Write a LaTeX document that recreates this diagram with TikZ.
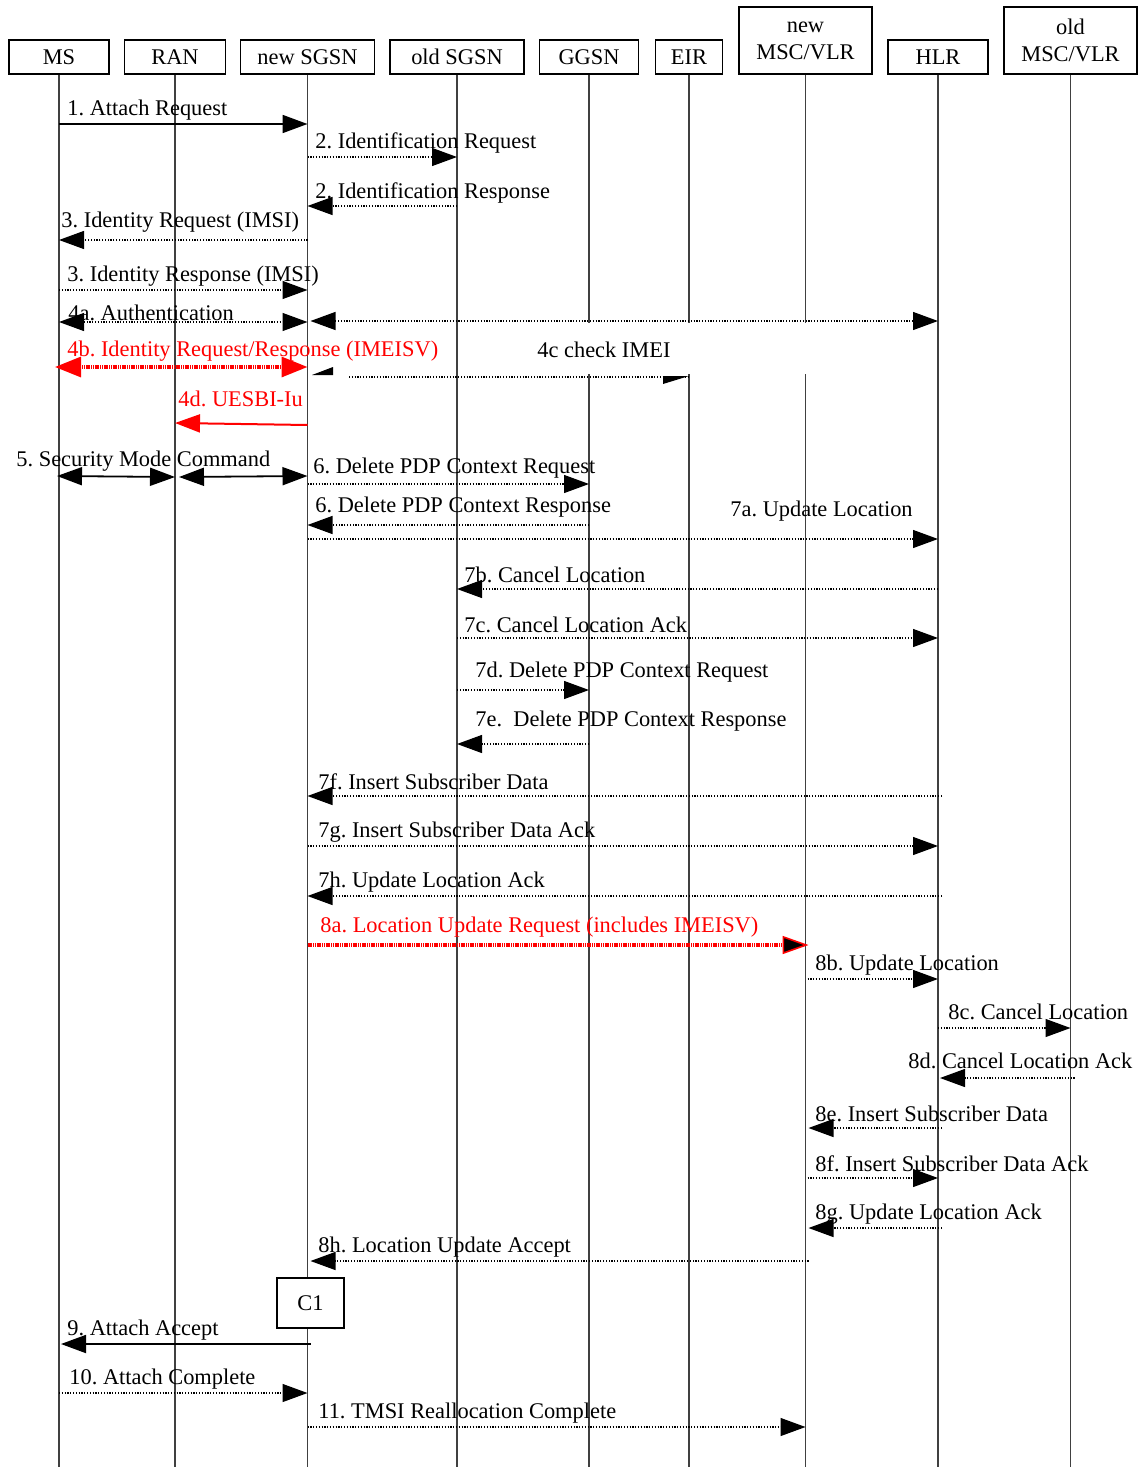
\documentclass[tikz,border=0pt]{standalone}
\usepackage{fontspec}
\setmainfont{Liberation Serif}
\usetikzlibrary{arrows.meta}
\begin{document}
\frenchspacing
\begin{tikzpicture}[x=0.5pt,y=-0.5pt,
  font=\fontsize{11.2}{13.5}\selectfont,
  hdr/.style={draw, line width=0.9pt, inner sep=0pt, align=center, fill=white, text depth=0pt},
  life/.style={line width=0.6pt, black!75},
  lbl/.style={anchor=west, inner sep=0pt, yshift=-1pt},
  rlbl/.style={lbl, text=red},
  dmsg/.style={line width=0.6pt, dash pattern=on 0.6pt off 0.8pt, -{Triangle[length=12.5pt,width=9pt]}},
  ddmsg/.style={line width=0.6pt, dash pattern=on 0.6pt off 0.8pt, {Triangle[length=12.5pt,width=9pt]}-{Triangle[length=12.5pt,width=9pt]}},
  smsg/.style={line width=0.9pt, -{Triangle[length=12.5pt,width=9pt]}},
  ssmsg/.style={line width=0.9pt, {Triangle[length=12.5pt,width=9pt]}-{Triangle[length=12.5pt,width=9pt]}},
  redd/.style={red, line width=1.6pt, dash pattern=on 0.6pt off 0.3pt},
]
\useasboundingbox (0,0) rectangle (1137,1467);
% headers
\node[hdr, minimum width=50pt, minimum height=17pt] (MS) at (59,57) {MS};
\node[hdr, minimum width=50.5pt, minimum height=17pt] (RAN) at (175,57) {RAN};
\node[hdr, minimum width=67pt, minimum height=17pt] (NSGSN) at (307.5,57) {new SGSN};
\node[hdr, minimum width=67pt, minimum height=17pt] (OSGSN) at (457,57) {old SGSN};
\node[hdr, minimum width=49.5pt, minimum height=17pt] (GGSN) at (589,57) {GGSN};
\node[hdr, minimum width=33.5pt, minimum height=17pt] (EIR) at (689,57) {EIR};
\node[hdr, minimum width=66.5pt, minimum height=33.5pt] (NMSC) at (805.5,40.5) {new\\MSC/VLR};
\node[hdr, minimum width=50pt, minimum height=17pt] (HLR) at (938,57) {HLR};
\node[hdr, minimum width=66.5pt, minimum height=33.5pt] (OMSC) at (1070.5,40.5) {old\\MSC/VLR};
% lifelines
\foreach \n in {MS,RAN,NSGSN,OSGSN,GGSN,EIR,NMSC,HLR,OMSC}
  \draw[life] (\n.south) -- (\n.south |- 0,1467);
% white gap for 4c
\fill[white] (470,323) rectangle (815,374);

% 1
\node[lbl] (l1) at (67,108) {1. Attach Request};
\draw[smsg] (MS |- 0,124) -- (NSGSN |- 0,124);
% 2
\node[lbl] (l2) at (315,141) {2. Identification Request};
\draw[dmsg] (NSGSN |- 0,157) -- (OSGSN |- 0,157);
\node[lbl] (l2b) at (315,191) {2. Identification Response};
\draw[dmsg] (OSGSN |- 0,206) -- (NSGSN |- 0,206);
% 3
\node[lbl] (l3) at (61,220) {3. Identity Request (IMSI)};
\draw[dmsg] (NSGSN |- 0,240) -- (MS |- 0,240);
\node[lbl] (l3b) at (67,274) {3. Identity Response (IMSI)};
\draw[dmsg] (MS |- 0,290) -- (NSGSN |- 0,290);
% 4a
\node[lbl] (l4a) at (68,311) {4a. Authentication};
\draw[ddmsg] (MS |- 0,322) -- (NSGSN |- 0,322);
\draw[ddmsg] ([xshift=1.5pt]NSGSN |- 0,321) -- (HLR |- 0,321);
% 4b
\node[rlbl] (l4b) at (67,349) {4b. Identity Request/Response (IMEISV)};
\draw[redd, {Triangle[length=13pt,width=10pt]}-{Triangle[length=13pt,width=10pt]}] ([xshift=-2pt]MS |- 0,367) -- (NSGSN |- 0,367);
% 4c
\node[lbl] (l4c) at (537,348) {4c check IMEI};
\coordinate (c4s) at (349,377);
\draw[line width=0.6pt, dash pattern=on 0.6pt off 0.8pt] (c4s) -- (EIR |- 0,377);
\fill (312,375) -- (333,367) -- (333,375) -- cycle;
\fill (663,376) -- (689,376) -- (663,384) -- cycle;
% 4d
\node[rlbl] (l4d) at (178,397) {4d. UESBI-Iu};
\draw[red, line width=1pt, -{Triangle[length=12.5pt,width=9pt]}] (NSGSN |- 0,425) -- (RAN |- 0,423);
% 5
\node[lbl] (l5) at (16,459) {5. Security Mode Command};
\draw[ssmsg] ([xshift=-1pt]MS |- 0,476) -- (RAN |- 0,477);
\draw[ssmsg] ([xshift=2pt]RAN |- 0,477) -- (NSGSN |- 0,476);
% 6
\node[lbl] (l6) at (313,466) {6. Delete PDP Context Request};
\draw[dmsg] (NSGSN |- 0,484) -- (GGSN |- 0,484);
\node[lbl] (l6b) at (315,505) {6. Delete PDP Context Response};
\draw[dmsg] (GGSN |- 0,525) -- (NSGSN |- 0,525);
% 7a
\node[lbl] (l7a) at (730,509) {7a. Update Location};
\draw[dmsg] (NSGSN |- 0,539) -- (HLR |- 0,539);
% 7b
\node[lbl] (l7b) at (464,573) {7b. Cancel Location};
\draw[dmsg] (HLR |- 0,589) -- (OSGSN |- 0,589);
% 7c
\node[lbl] (l7c) at (464,623) {7c. Cancel Location Ack};
\draw[dmsg] (OSGSN |- 0,638) -- (HLR |- 0,638);
% 7d
\node[lbl] (l7d) at (475,670) {7d. Delete PDP Context Request};
\draw[dmsg] (OSGSN |- 0,690) -- (GGSN |- 0,690);
% 7e
\node[lbl] (l7e) at (475,719) {7e.\ \ Delete PDP Context Response};
\draw[dmsg] (GGSN |- 0,744) -- (OSGSN |- 0,744);
% 7f
\node[lbl] (l7f) at (318,780) {7f. Insert Subscriber Data};
\draw[dmsg] ([xshift=2pt]HLR |- 0,796) -- (NSGSN |- 0,796);
% 7g
\node[lbl] (l7g) at (318,830) {7g. Insert Subscriber Data Ack};
\draw[dmsg] (NSGSN |- 0,846) -- (HLR |- 0,846);
% 7h
\node[lbl] (l7h) at (318,880) {7h. Update Location Ack};
\draw[dmsg] ([xshift=2pt]HLR |- 0,896) -- (NSGSN |- 0,896);
% 8a
\node[rlbl] (l8a) at (320,925) {8a. Location Update Request (includes IMEISV)};
\draw[redd, -{Triangle[length=13pt,width=9pt,fill=black,line width=0.8pt]}] (NSGSN |- 0,945) -- ([xshift=1.5pt]NMSC |- 0,945);
% 8b
\node[lbl] (l8b) at (815,963) {8b. Update Location};
\draw[dmsg] ([xshift=1pt]NMSC |- 0,979) -- (HLR |- 0,979);
% 8c
\node[lbl] (l8c) at (948,1010) {8c. Cancel Location};
\draw[dmsg] (HLR |- 0,1028) -- (OMSC |- 0,1028);
% 8d
\node[lbl] (l8d) at (908,1059) {8d. Cancel Location Ack};
\draw[dmsg] ([xshift=2pt]OMSC |- 0,1078) -- ([xshift=1pt]HLR |- 0,1078);
% 8e
\node[lbl] (l8e) at (815,1112) {8e. Insert Subscriber Data};
\draw[dmsg] ([xshift=2pt]HLR |- 0,1128) -- ([xshift=1.5pt]NMSC |- 0,1128);
% 8f
\node[lbl] (l8f) at (815,1162) {8f. Insert Subscriber Data Ack};
\draw[dmsg] ([xshift=1pt]NMSC |- 0,1178) -- (HLR |- 0,1178);
% 8g
\node[lbl] (l8g) at (815,1212) {8g. Update Location Ack};
\draw[dmsg] ([xshift=2pt]HLR |- 0,1228) -- ([xshift=1.5pt]NMSC |- 0,1228);
% 8h
\node[lbl] (l8h) at (318,1245) {8h. Location Update Accept};
\draw[dmsg] ([xshift=1.5pt]NMSC |- 0,1261) -- ([xshift=1.5pt]NSGSN |- 0,1261);
% C1
\node[hdr, minimum width=33.5pt, minimum height=25pt] (C1) at (310.5,1303) {C1};
% 9
\node[lbl] (l9) at (67,1328) {9. Attach Accept};
\draw[smsg] ([xshift=1.5pt]NSGSN |- 0,1344) -- ([xshift=1pt]MS |- 0,1344);
% 10
\node[lbl] (l10) at (69,1377) {10. Attach Complete};
\draw[dmsg] (MS |- 0,1393) -- (NSGSN |- 0,1393);
% 11
\node[lbl] (l11) at (318,1411) {11. TMSI Reallocation Complete};
\draw[dmsg] (NSGSN |- 0,1427) -- (NMSC |- 0,1427);
\end{tikzpicture}
\end{document}
